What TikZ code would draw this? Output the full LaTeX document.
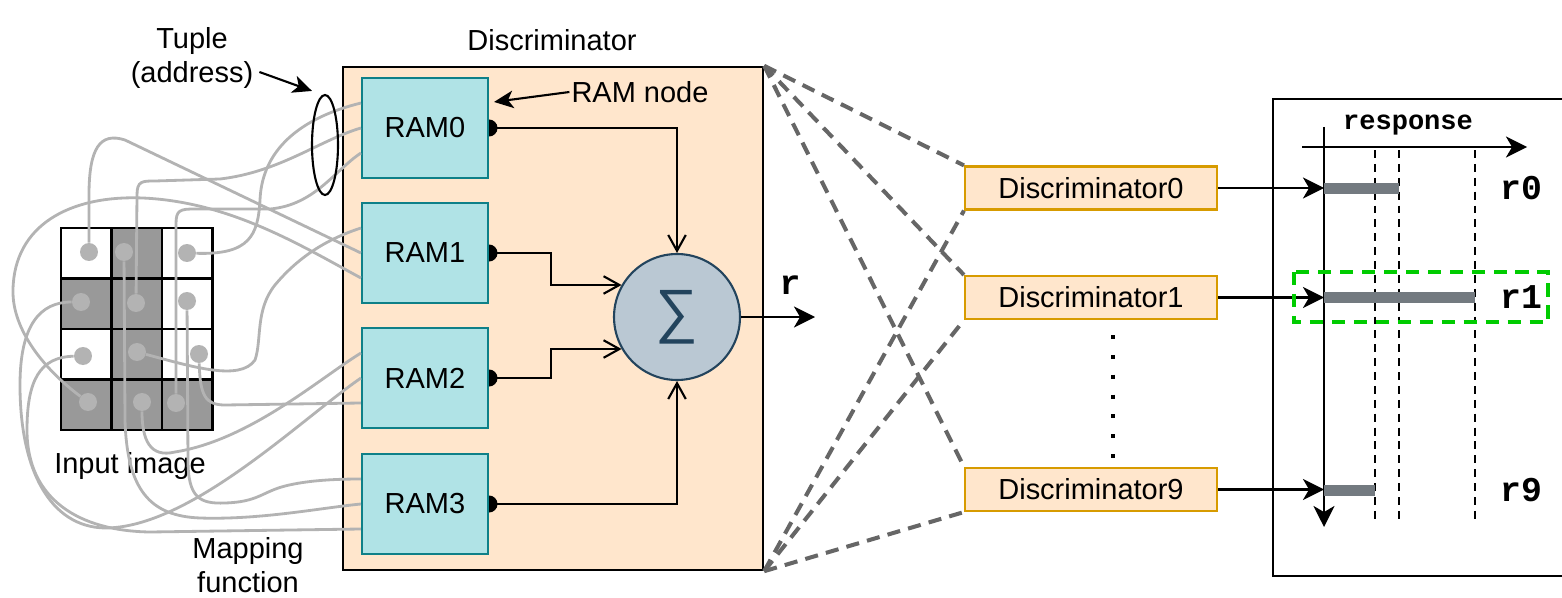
\documentclass[tikz,border=0pt]{standalone}
\usepackage{fontspec}
\setmainfont{Liberation Sans}
\setmonofont{Liberation Mono}
\usetikzlibrary{shapes.geometric,arrows.meta}

\definecolor{peach}{HTML}{FFE6CC}
\definecolor{peachline}{HTML}{D79B00}
\definecolor{ramfill}{HTML}{B0E3E6}
\definecolor{ramline}{HTML}{0E8088}
\definecolor{sumfill}{HTML}{BAC8D3}
\definecolor{sumline}{HTML}{23445D}
\definecolor{wiregray}{HTML}{B3B3B3}
\definecolor{cellgray}{HTML}{999999}
\definecolor{fangray}{HTML}{666666}
\definecolor{bargray}{HTML}{737A80}
\definecolor{wingreen}{HTML}{00CC00}

% half dot on the output side of a RAM
\newcommand{\ramdot}[1]{\fill (#1.east) ++(0,-8.5) arc[start angle=-90,end angle=90,radius=8.5];}

\tikzset{
  discbig/.style={draw=black,line width=1.4pt,fill=peach,minimum width=8.4cm,minimum height=10.06cm},
  ram/.style={draw=ramline,line width=1.2pt,fill=ramfill,minimum width=2.52cm,minimum height=2cm},
  sumnode/.style={circle,draw=sumline,line width=1.2pt,fill=sumfill,minimum size=2.52cm,inner sep=0pt,text=sumline,font=\fontsize{34}{34}\selectfont},
  outbox/.style={draw=peachline,line width=1.2pt,fill=peach,minimum width=5.04cm,minimum height=0.86cm,inner sep=0pt},
  cell/.style={draw=black,line width=1.3pt},
  pix/.style={circle,fill=wiregray,minimum size=0.36cm,inner sep=0pt},
  wire/.style={draw=wiregray,line width=1.6pt},
  sumarrow/.style={draw=black,line width=1.2pt,-{Straight Barb[length=9pt,width=10pt,line width=1.2pt]}},
  outarrow/.style={draw=black,line width=1.2pt,-{Stealth[length=12pt,width=12pt,inset=3.5pt]}},
  pointer/.style={draw=black,line width=1.2pt,-{Stealth[length=11pt,width=10pt,inset=3pt]}},
  fan/.style={draw=fangray,line width=2.3pt,dash pattern=on 7.5pt off 4.7pt},
  thresh/.style={draw=black,line width=0.9pt,dash pattern=on 4.5pt off 3.4pt},
  rlabel/.style={font=\fontsize{19.8}{22}\selectfont\ttfamily\bfseries},
}

\begin{document}
\begin{tikzpicture}[x=0.02cm,y=-0.02cm,font=\fontsize{16.5}{19.5}\selectfont]
\useasboundingbox (0,0) rectangle (1562,598);
\clip (0,0) rectangle (1562,598);

% Discriminator block
\node[discbig] (disc) at (553,318.5) {};
\node (disctitle) at (552,40) {Discriminator};

% Input image grid
\foreach \r/\c/\f in {0/0/white,0/1/cellgray,0/2/white,
                      1/0/cellgray,1/1/cellgray,1/2/white,
                      2/0/white,2/1/cellgray,2/2/white,
                      3/0/cellgray,3/1/cellgray,3/2/cellgray}
  \draw[cell,fill=\f] (61+50.5*\c,228+50.5*\r) rectangle ++(50.5,50.5);
\node (inlbl) at (130,466) {Input image};

% Pixels
\node[pix] (d00) at (89,252) {};
\node[pix] (d01) at (124,252) {};
\node[pix] (d02) at (187,253) {};
\node[pix] (d10) at (81,302) {};
\node[pix] (d11) at (136,303) {};
\node[pix] (d12) at (187,301) {};
\node[pix] (d20) at (83,356) {};
\node[pix] (d21) at (137,352) {};
\node[pix] (d22) at (199,354) {};
\node[pix] (d30) at (88,402) {};
\node[pix] (d31) at (142,402) {};
\node[pix] (d32) at (176,403) {};

% RAM nodes
\node[ram] (r0) at (425,128) {RAM0};
\node[ram] (r1) at (425,253) {RAM1};
\node[ram] (r2) at (425,378) {RAM2};
\node[ram] (r3) at (425,504) {RAM3};

% Mapping function
\draw[wire] (d02) .. controls (250,255) and (258,235) .. (260,200) .. controls (262,150) and (300,118) .. ([yshift=0.5cm]r0.west);
\draw[wire] (d11) -- (137,195) .. controls (137,181) and (142,181) .. (155,181) -- (220,179) .. controls (280,172) and (320,140) .. (r0.west);
\draw[wire] (d32) -- (176,224) .. controls (176,210) and (180,209) .. (195,209) -- (270,209) .. controls (315,205) and (335,170) .. ([yshift=-0.5cm]r0.west);
\draw[wire] (d21) .. controls (190,366) and (240,382) .. (255,360) .. controls (262,340) and (255,310) .. (275,285) .. controls (300,255) and (330,238) .. ([yshift=0.5cm]r1.west);
\draw[wire] (d00) -- (89,195) .. controls (89,148) and (100,132) .. (125,140) -- (r1.west);
\draw[wire] (d30) .. controls (45,370) and (12,330) .. (13,290) .. controls (14,225) and (70,195) .. (143,198) .. controls (230,202) and (300,245) .. ([yshift=-0.5cm]r1.west);
\draw[wire] (d31) .. controls (142,440) and (150,458) .. (175,452) .. controls (250,440) and (320,378) .. ([yshift=0.5cm]r2.west);
\draw[wire] (d10) .. controls (40,302) and (20,325) .. (20,385) .. controls (20,470) and (50,527) .. (105,528) .. controls (190,528) and (300,420) .. (r2.west);
\draw[wire] (d22) .. controls (200,395) and (205,405) .. (225,405) -- ([yshift=-0.5cm]r2.west);
\draw[wire] (d12) -- (188,460) .. controls (188,498) and (200,504) .. (225,503) .. controls (258,502) and (262,492) .. (285,486) .. controls (305,481) and (330,479) .. ([yshift=0.5cm]r3.west);
\draw[wire] (d01) -- (125,420) .. controls (127,490) and (150,516) .. (200,518) .. controls (260,520) and (320,508) .. (r3.west);
\draw[wire] (d20) .. controls (40,357) and (27,380) .. (27,430) .. controls (27,500) and (80,531) .. (150,532) -- ([yshift=-0.5cm]r3.west);
\node[align=center] (maplbl) at (248,565) {Mapping\\function};

% Tuple
\node[ellipse,draw=black,line width=1.2pt,minimum width=0.52cm,minimum height=2cm,inner sep=0pt] (tup) at (325,145) {};
\node[align=center] (tuplbl) at (192,58) {Tuple\\(address)};
\draw[pointer] ([yshift=-0.28cm]tuplbl.east) -- ([xshift=-0.26cm,yshift=0.06cm]tup.north);

% Summation
\node[sumnode] (sig) at (677,317) {∑};
\draw[sumarrow] (r0.east) -| (sig.north);
\draw[sumarrow] (r1.east) -- ++(62,0) |- (sig.150);
\draw[sumarrow] (r2.east) -- ++(62,0) |- (sig.210);
\draw[sumarrow] (r3.east) -| (sig.south);
\ramdot{r0}
\ramdot{r1}
\ramdot{r2}
\ramdot{r3}
\coordinate (rend) at (815,317);
\draw[outarrow] (sig.east) -- (rend);
\node[rlabel] (rsum) at (790,285) {r};

% RAM node label
\node[inner sep=1pt] (ramlbl) at (640,92) {RAM node};
\draw[pointer] (ramlbl.west) -- ([xshift=0.1cm,yshift=-0.5cm]r0.north east);

% Discriminators
\node[outbox] (o0) at (1091,188) {Discriminator0};
\node[outbox] (o1) at (1091,297.5) {Discriminator1};
\node[outbox] (o9) at (1091,489.5) {Discriminator9};
\foreach \o in {o0,o1,o9} {
  \draw[fan] (disc.north east) -- (\o.north west);
  \draw[fan] (disc.south east) -- (\o.south west);
}
\draw[line width=2.3pt,dash pattern=on 2.3pt off 9pt] (1113,335) -- (1113,462);

% Response panel
\draw[line width=1.2pt] (1273,99) rectangle (1620,576);
\coordinate (vtop) at (1324,127);
\coordinate (vbot) at (1324,527);
\coordinate (hleft) at (1302,147);
\coordinate (hright) at (1527,147);
\draw[outarrow] (vtop) -- (vbot);
\draw[outarrow] (hleft) -- (hright);
\node[font=\fontsize{15.4}{17}\selectfont\ttfamily\bfseries] (resplbl) at (1408,125) {response};
\foreach \x in {1375,1399,1475}
  \draw[thresh] (\x,150) -- (\x,520);
\fill[bargray] (1324,182.5) rectangle (1399,193.5);
\fill[bargray] (1324,291.5) rectangle (1475,302.5);
\fill[bargray] (1324,484.5) rectangle (1375,495.5);
\draw[outarrow] (o0.east) -- (o0.east -| vtop);
\draw[outarrow] (o1.east) -- (o1.east -| vtop);
\draw[outarrow] (o9.east) -- (o9.east -| vtop);
\draw[wingreen,line width=2.3pt,dash pattern=on 7.5pt off 5pt] (1294,272) rectangle (1548,322);
\node[rlabel] (resp0) at (1521,188) {r0};
\node[rlabel] (resp1) at (1521,297) {r1};
\node[rlabel] (resp9) at (1521,490) {r9};
\end{tikzpicture}
\end{document}
